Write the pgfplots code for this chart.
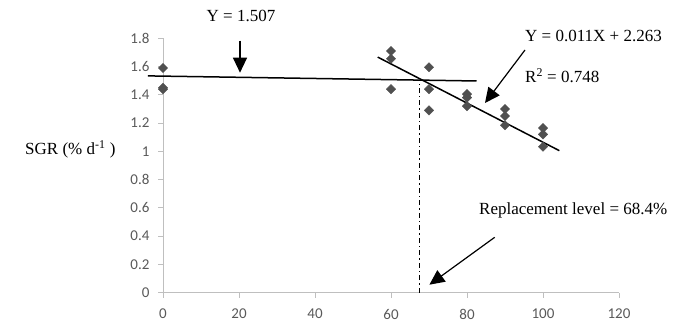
\documentclass[border=0pt]{standalone}
\usepackage{fontspec}
\setmainfont{Liberation Serif}
\newfontfamily\carlito{Carlito}
\usepackage{pgfplots}
\pgfplotsset{compat=1.18}
\usetikzlibrary{arrows.meta}
\definecolor{tickgray}{HTML}{595959}
\definecolor{axgray}{HTML}{BFBFBF}
\definecolor{markgray}{HTML}{505050}
\begin{document}
\begin{tikzpicture}[x=1pt,y=1pt]
\path[use as bounding box] (0,0) rectangle (674,326);
\begin{axis}[
  at={(163pt,33.3pt)}, anchor=south west, scale only axis,
  width=456pt, height=254.4pt,
  xmin=0, xmax=120, ymin=0, ymax=1.8,
  axis x line=bottom, axis y line=left,
  axis line style={axgray, line width=1pt, -},
  xtick={0,20,40,60,80,100,120},
  ytick={0,0.2,0.4,0.6,0.8,1,1.2,1.4,1.6,1.8},
  tick style={axgray, line width=1pt}, major tick length=5pt, tick align=outside,
  ticklabel style={font=\carlito\fontsize{15}{15}\selectfont, text=tickgray},
  /pgf/number format/assume math mode=true,
  xticklabel style={yshift=-8pt},
  yticklabel style={xshift=-5pt},
  clip=false,
]
\addplot[only marks, mark=square*, mark size=3.3pt,
  mark options={rotate=45, fill=markgray, draw=markgray}] coordinates {
  (0,1.59) (0,1.45) (0,1.44)
  (60,1.71) (60,1.655) (60,1.44)
  (70,1.595) (70,1.44) (70,1.29)
  (80,1.405) (80,1.38) (80,1.32)
  (90,1.30) (90,1.25) (90,1.185)
  (100,1.165) (100,1.12) (100,1.033)
};
\addplot[black, line width=1.5pt] coordinates {(-4,1.534) (82.5,1.498)};
\addplot[black, line width=1.5pt] coordinates {(56.5,1.667) (104.3,1.005)};
\addplot[black, line width=1.2pt, dash pattern=on 5pt off 3pt on 1.5pt off 3pt] coordinates {(67.5,0) (67.5,1.48)};
\end{axis}
\begin{scope}[font=\fontsize{17}{20}\selectfont]
\node[anchor=base, inner sep=0] at (241,304) {Y = 1.507};
\node[anchor=base west, inner sep=0] at (525,284) {Y = 0.011X + 2.263};
\node[anchor=base west, inner sep=0] at (525,243) {R\textsuperscript{2} = 0.748};
\node[anchor=base west, inner sep=0] at (479,111) {Replacement level = 68.4\%};
\node[anchor=base west, inner sep=0] at (25,171) {SGR (\% d\textsuperscript{-1} )};
\end{scope}
\draw[line width=1.2pt, -{Triangle[length=15pt,width=14pt]}] (240,285.3) -- (240,253.3);
\draw[line width=1.2pt, -{Triangle[length=15pt,width=14pt]}] (525,276) -- (485,223);
\draw[line width=1.2pt, -{Triangle[length=15pt,width=14pt]}] (494.7,88.7) -- (429.4,41.3);
\end{tikzpicture}
\end{document}
